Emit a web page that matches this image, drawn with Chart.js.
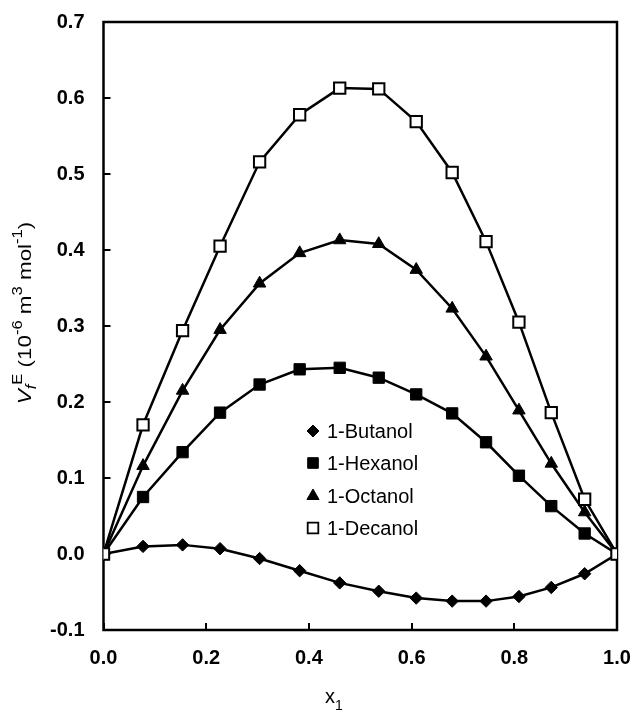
<!DOCTYPE html>
<html>
<head>
<meta charset="utf-8">
<script src="https://cdn.jsdelivr.net/npm/chart.js@4"></script>
<style>
  html, body { margin: 0; padding: 0; background: #fff; }
  canvas { display: block; }
</style>
</head>
<body>
<canvas id="c" width="636" height="713"></canvas>
<script>
// ---- data ----
const xValues = [0, 0.077, 0.154, 0.227, 0.304, 0.382, 0.460, 0.536, 0.609, 0.679, 0.745, 0.809, 0.872, 0.937, 1.0];
const butanol = [0, 0.010, 0.012, 0.007, -0.006, -0.022, -0.038, -0.049, -0.058, -0.062, -0.062, -0.056, -0.044, -0.026, 0];
const hexanol = [0, 0.075, 0.134, 0.186, 0.223, 0.243, 0.245, 0.232, 0.210, 0.185, 0.147, 0.103, 0.063, 0.027, 0];
const octanol = [0, 0.116, 0.215, 0.295, 0.356, 0.396, 0.413, 0.408, 0.374, 0.323, 0.260, 0.189, 0.119, 0.055, 0];
const decanol = [0, 0.170, 0.294, 0.405, 0.516, 0.578, 0.613, 0.612, 0.569, 0.502, 0.411, 0.305, 0.186, 0.072, 0];
const seriesLabels = ['1-Butanol', '1-Hexanol', '1-Octanol', '1-Decanol'];
const xTickValues = [0, 0.2, 0.4, 0.6, 0.8, 1.0];
const yTickValues = [-0.1, 0, 0.1, 0.2, 0.3, 0.4, 0.5, 0.6, 0.7];

const FONT = "'Liberation Sans', Arial, Helvetica, sans-serif";
Chart.defaults.font.family = FONT;
Chart.defaults.color = '#000';

function pts(arr) { return xValues.map((x, i) => ({ x: x, y: arr[i] })); }

const styles = [
  { pointStyle: 'rectRot', radius: 6.2, fill: '#000', legendRadius: 6 },
  { pointStyle: 'rect', radius: 8, fill: '#000', legendRadius: 7.5 },
  { pointStyle: 'triangle', radius: 7.2, fill: '#000', legendRadius: 7 },
  { pointStyle: 'rect', radius: 8, fill: '#fff', legendRadius: 7.5 }
];
const seriesData = [butanol, hexanol, octanol, decanol];

const datasets = seriesData.map((arr, i) => ({
  label: seriesLabels[i],
  data: pts(arr),
  borderColor: '#000',
  borderWidth: 2.5,
  pointStyle: styles[i].pointStyle,
  pointRadius: styles[i].radius,
  pointHoverRadius: styles[i].radius,
  pointBackgroundColor: styles[i].fill,
  pointBorderColor: '#000',
  pointBorderWidth: i === 3 ? 2 : 1,
  tension: 0,
  fill: false,
  order: 3 - i
}));

const framePlugin = {
  id: 'frame',
  beforeDatasetsDraw(chart) {
    const { ctx, chartArea: a, scales } = chart;
    ctx.save();
    ctx.strokeStyle = '#000';
    ctx.lineWidth = 2;
    ctx.beginPath();
    scales.y.ticks.forEach(t => {
      const py = Math.round(scales.y.getPixelForValue(t.value));
      ctx.moveTo(a.left, py); ctx.lineTo(a.left + 7, py);
    });
    scales.x.ticks.forEach(t => {
      const px = Math.round(scales.x.getPixelForValue(t.value));
      ctx.moveTo(px, a.bottom); ctx.lineTo(px, a.bottom - 7);
    });
    ctx.stroke();
    ctx.lineWidth = 2.5;
    ctx.strokeRect(a.left, a.top, a.right - a.left, a.bottom - a.top);
    ctx.restore();
  }
};

function drawRuns(ctx, runs, x, y) {
  let cx = x;
  runs.forEach(r => {
    ctx.font = (r[3] || '') + ' ' + r[1] + 'px ' + FONT;
    ctx.fillText(r[0], cx, y + r[2]);
    cx += ctx.measureText(r[0]).width;
  });
  return cx - x;
}
function measureRuns(ctx, runs) {
  let w = 0;
  runs.forEach(r => { ctx.font = (r[3] || '') + ' ' + r[1] + 'px ' + FONT; w += ctx.measureText(r[0]).width; });
  return w;
}

const titlesPlugin = {
  id: 'titles',
  afterDraw(chart) {
    const { ctx } = chart;
    ctx.save();
    ctx.fillStyle = '#000';
    ctx.textBaseline = 'alphabetic';
    ctx.textAlign = 'left';
    // y title (rotated, slightly stretched along its length like the reference)
    const yRuns = [
      ['V', 19, 0, 'italic'], ['f', 14, 5, 'italic'], ['E', 14, -9, ''],
      [' (10', 19, 0, ''], ['-6', 14, -9, ''], [' m', 19, 0, ''], ['3', 14, -9, ''],
      [' mol', 19, 0, ''], ['-1', 14, -9, ''], [')', 19, 0, '']
    ];
    const stretch = 1.18;
    const yw = measureRuns(ctx, yRuns);
    ctx.translate(31, 313);
    ctx.rotate(-Math.PI / 2);
    ctx.scale(stretch, 1);
    drawRuns(ctx, yRuns, -yw / 2, 0);
    ctx.setTransform(1, 0, 0, 1, 0, 0);
    // x title
    const xRuns = [['x', 20, 0, ''], ['1', 14, 7, '']];
    const xw = measureRuns(ctx, xRuns);
    drawRuns(ctx, xRuns, 334 - xw / 2, 703);
    ctx.restore();
  }
};

const legendPlugin = {
  id: 'customLegend',
  afterDraw(chart) {
    const { ctx } = chart;
    const rows = [431, 463, 496, 528];
    ctx.save();
    chart.data.datasets.forEach((ds, i) => {
      const st = styles[i];
      ctx.fillStyle = st.fill;
      ctx.strokeStyle = '#000';
      ctx.lineWidth = i === 3 ? 1.8 : 1;
      Chart.helpers.drawPoint(ctx, { pointStyle: st.pointStyle, radius: st.legendRadius, rotation: 0, borderWidth: ctx.lineWidth }, 313, rows[i]);
      ctx.fillStyle = '#000';
      ctx.font = '20px ' + FONT;
      ctx.textAlign = 'left';
      ctx.textBaseline = 'middle';
      ctx.fillText(ds.label, 327, rows[i] + 1);
    });
    ctx.restore();
  }
};

new Chart(document.getElementById('c'), {
  type: 'line',
  data: { datasets: datasets },
  plugins: [framePlugin, titlesPlugin, legendPlugin],
  options: {
    responsive: false,
    animation: false,
    devicePixelRatio: 1,
    layout: { padding: { top: 22, right: 19, left: 0, bottom: 0 } },
    plugins: { legend: { display: false }, tooltip: { enabled: false } },
    scales: {
      x: {
        type: 'linear',
        min: 0, max: 1,
        afterFit(s) { s.height = 83; s.paddingLeft = 0; s.paddingRight = 0; },
        afterBuildTicks(s) { s.ticks = xTickValues.map(v => ({ value: v })); },
        grid: { display: false, drawTicks: false, tickLength: 0 },
        border: { display: false },
        ticks: {
          padding: 16,
          maxRotation: 0,
          font: { size: 20, weight: 'bold' },
          callback: v => Number(v).toFixed(1)
        }
      },
      y: {
        type: 'linear',
        min: -0.1, max: 0.7,
        afterFit(s) { s.width = 103.5; s.paddingTop = 0; s.paddingBottom = 0; },
        afterBuildTicks(s) { s.ticks = yTickValues.map(v => ({ value: v })); },
        grid: { display: false, drawTicks: false, tickLength: 0 },
        border: { display: false },
        ticks: {
          padding: 19,
          font: { size: 20, weight: 'bold' },
          callback: v => Number(v).toFixed(1)
        }
      }
    }
  }
});
</script>
</body>
</html>
